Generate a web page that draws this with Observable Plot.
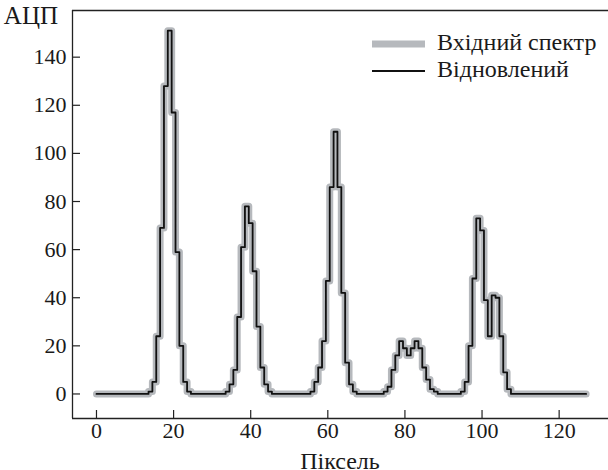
<!DOCTYPE html>
<html><head><meta charset="utf-8">
<script src="https://cdn.jsdelivr.net/npm/d3@7"></script>
<script src="https://cdn.jsdelivr.net/npm/@observablehq/plot@0.6"></script>
<style>body{margin:0;background:#fff} svg{display:block}</style>
</head><body><div id="chart"></div>
<script>
// Pixel indices 0..127
const pixels = d3.range(128);
// Input spectrum (ADC counts)
const inputSpectrum = [
  0,0,0,0,0,0,0,0,0,0, 0,0,0,0,1,5,24,69,128,151,
  117,59,20,5,1,0,0,0,0,0, 0,0,0,0,1,4,10,32,61,78,
  71,51,28,11,4,1,0,0,0,0, 0,0,0,0,0,0,1,5,11,22,
  47,86,109,86,42,13,4,1,0,0, 0,0,0,0,0,1,3,10,16,22,
  19,16,19,22,19,11,6,2,1,0, 0,0,0,0,0,1,5,20,48,73,
  68,39,24,41,40,24,9,2,0,0, 0,0,0,0,0,0,0,0,0,0,
  0,0,0,0,0,0,0,0
];
// Restored spectrum
const restoredSpectrum = [
  0,0,0,0,0,0,0,0,0,0, 0,0,0,0,1,5,24,69,128,151,
  117,59,20,5,1,0,0,0,0,0, 0,0,0,0,1,4,10,32,61,78,
  71,51,28,11,4,1,0,0,0,0, 0,0,0,0,0,0,1,5,11,22,
  47,86,109,86,42,13,4,1,0,0, 0,0,0,0,0,1,3,10,16,22,
  19,16,19,22,19,11,6,2,1,0, 0,0,0,0,0,1,5,20,48,73,
  68,39,24,41,40,24,9,2,0,0, 0,0,0,0,0,0,0,0,0,0,
  0,0,0,0,0,0,0,0
];
const xTicks = [0, 20, 40, 60, 80, 100, 120];
const yTicks = [0, 20, 40, 60, 80, 100, 120, 140];
const seriesNames = ["Вхідний спектр", "Відновлений"];
const xLabel = "Піксель";
const yLabel = "АЦП";

const inputData = pixels.map((p, i) => ({x: p, y: inputSpectrum[i]}));
const restoredData = pixels.map((p, i) => ({x: p, y: restoredSpectrum[i]}));

const W = 608, H = 470;
const mL = 72, mR = 0, mT = 10, mB = 52;
const xDom = [-6.22, 132.8], yDom = [-10.2, 159.4];
const FONT = "'Liberation Serif', 'Times New Roman', serif";
const FS_TICK = 22, FS_LEG = 24, FS_LAB = 24;

const chart = Plot.plot({
  width: W, height: H,
  marginLeft: mL, marginRight: mR, marginTop: mT, marginBottom: mB,
  style: {fontFamily: FONT, fontSize: FS_TICK + "px", color: "#1a1a1a", background: "#fff"},
  x: {domain: xDom},
  y: {domain: yDom},
  marks: [
    Plot.line(inputData, {x: "x", y: "y", curve: "step", stroke: "#b6b9bd", strokeWidth: 7, strokeLinejoin: "round", strokeLinecap: "round"}),
    Plot.line(restoredData, {x: "x", y: "y", curve: "step", stroke: "#111", strokeWidth: 1.8}),
    Plot.ruleX([xDom[0]], {stroke: "#222", strokeWidth: 1.3}),
    Plot.ruleY([yDom[0], yDom[1]], {stroke: "#222", strokeWidth: 1.3}),
    Plot.tickY(yTicks, {y: d => d, insetRight: (W - mL - mR) - 8, stroke: "#222", strokeWidth: 1.2}),
    Plot.tickX(xTicks, {x: d => d, insetTop: (H - mT - mB) - 8, stroke: "#222", strokeWidth: 1.2}),
    Plot.axisY({ticks: yTicks, tickSize: 0, tickPadding: 6, label: null, fontSize: FS_TICK}),
    Plot.axisX({ticks: xTicks, tickSize: 0, tickPadding: 4, label: null, fontSize: FS_TICK})
  ]
});

const svg = d3.select(chart);
svg.append("text").attr("x", 58).attr("y", 18).attr("text-anchor", "end")
  .attr("dominant-baseline", "middle").attr("font-size", 25)
  .attr("fill", "#1a1a1a").text(yLabel);
svg.append("text").attr("x", 340).attr("y", 463).attr("text-anchor", "middle")
  .attr("dominant-baseline", "middle").attr("font-size", FS_LAB)
  .attr("fill", "#1a1a1a").text(xLabel);
const leg = svg.append("g");
const legStyles = [{stroke: "#b6b9bd", w: 7}, {stroke: "#111", w: 1.8}];
seriesNames.forEach((name, i) => {
  const y = 44 + i * 27;
  leg.append("line").attr("x1", 372).attr("x2", 425).attr("y1", y).attr("y2", y)
    .attr("stroke", legStyles[i].stroke).attr("stroke-width", legStyles[i].w);
  leg.append("text").attr("x", 437).attr("y", y).attr("text-anchor", "start")
    .attr("dominant-baseline", "middle").attr("font-size", FS_LEG)
    .attr("fill", "#1a1a1a").text(name);
});
document.getElementById("chart").appendChild(chart);
</script>
</body></html>
